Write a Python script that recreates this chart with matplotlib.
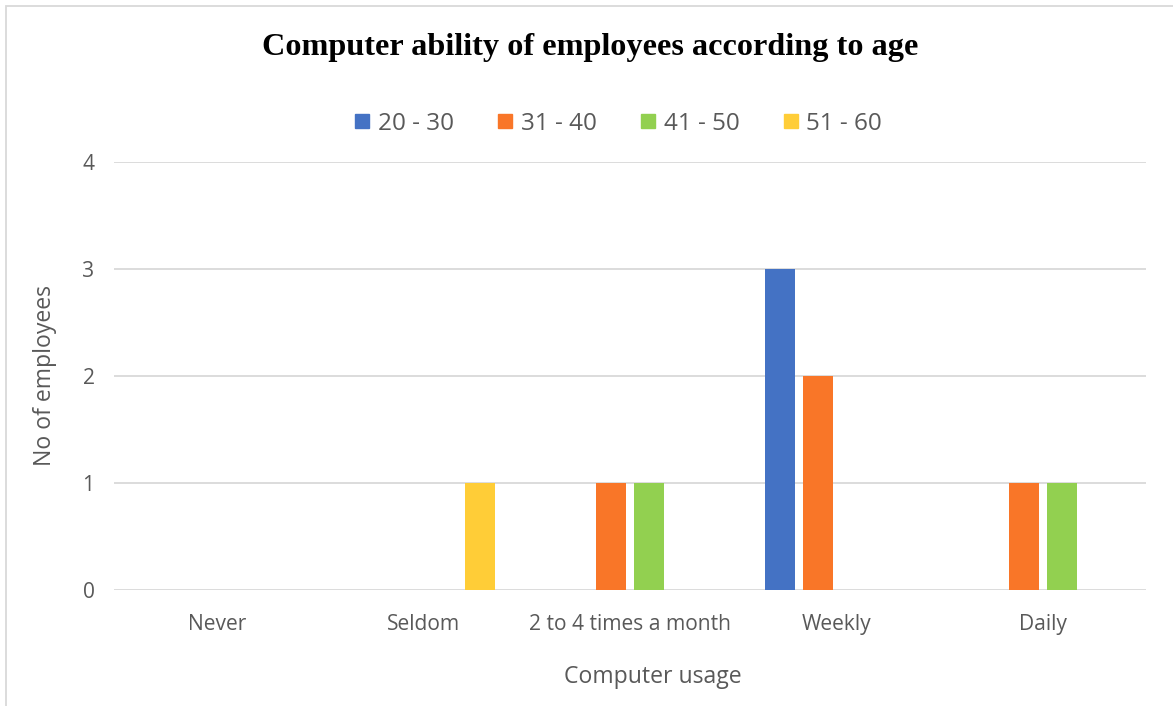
import matplotlib
matplotlib.use("Agg")
import matplotlib.pyplot as plt
import numpy as np
from matplotlib.patches import Rectangle
from matplotlib.lines import Line2D

categories = ["Never", "Seldom", "2 to 4 times a month", "Weekly", "Daily"]
age_groups = ["20 - 30", "31 - 40", "41 - 50", "51 - 60"]
values_20_30 = [0, 0, 0, 3, 0]
values_31_40 = [0, 0, 1, 2, 1]
values_41_50 = [0, 0, 1, 0, 1]
values_51_60 = [0, 1, 0, 0, 0]
series = [values_20_30, values_31_40, values_41_50, values_51_60]
colors = ["#4472C4", "#F97628", "#92D050", "#FFCD37"]
y_ticks = [0, 1, 2, 3, 4]

W, H = 1173, 706
fig = plt.figure(figsize=(W / 100, H / 100), dpi=100)
fig.patch.set_facecolor("white")

# thin frame around the chart area
fig.add_artist(Rectangle((6 / W, -0.01), 1.1, 1 - 6 / H + 0.01,
                         transform=fig.transFigure, fill=False,
                         edgecolor="#D9D9D9", linewidth=1.3))

ax = fig.add_axes([114 / W, 1 - 590 / H, (1146 - 114) / W, (590 - 162) / H])
ax.set_facecolor("white")

x = np.arange(len(categories))
step = 0.182
width = 0.145
for i, (vals, col, lab) in enumerate(zip(series, colors, age_groups)):
    ax.bar(x + (i - 1.5) * step, vals, width=width, color=col, label=lab,
           zorder=3)

ax.set_xlim(-0.5, len(categories) - 0.5)
ax.set_ylim(0, 4)
ax.set_yticks(y_ticks)
ax.yaxis.grid(True, color="#D9D9D9", linewidth=1.3, zorder=0)
for s in ax.spines.values():
    s.set_visible(False)
ax.tick_params(axis="both", length=0, colors="#595959", labelsize=15.1)
ax.tick_params(axis="y", pad=14)
ax.tick_params(axis="x", pad=17)
ax.set_xticks(x)
ax.set_xticklabels(categories, fontfamily="Open Sans")
for t in ax.get_yticklabels():
    t.set_fontfamily("Open Sans")

fig.text(653 / W, 1 - 677 / H, "Computer usage", ha="center", va="center",
         fontsize=16.6, color="#595959", fontfamily="Open Sans")
fig.text(45 / W, 1 - 376 / H, "No of employees", ha="center", va="center",
         rotation=90, fontsize=16.6, color="#595959", fontfamily="Open Sans")

fig.text(590 / W, 1 - 47 / H, "Computer ability of employees according to age",
         ha="center", va="center", fontsize=23.2, fontweight="bold",
         fontfamily="Liberation Serif", color="black")

handles = [Line2D([0], [0], marker="s", linestyle="none", markersize=9.5,
                  markerfacecolor=c, markeredgecolor=c) for c in colors]
fig.legend(handles, age_groups, loc="center", ncol=4,
           bbox_to_anchor=(618 / W, 1 - 124 / H), frameon=False,
           prop={"family": "Open Sans", "size": 17.5}, labelcolor="#595959",
           handlelength=0.7, handletextpad=0.3, columnspacing=1.75)

fig.savefig("out.png", dpi=100, facecolor="white")
